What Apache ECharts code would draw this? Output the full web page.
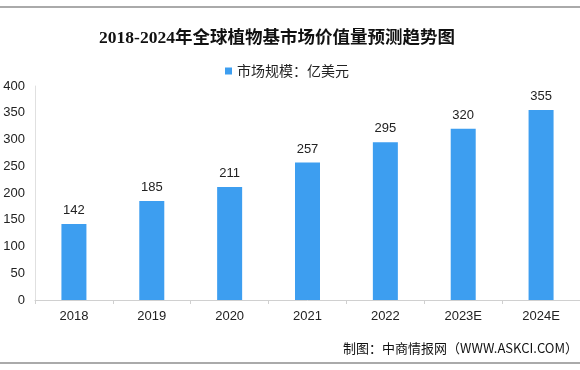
<!DOCTYPE html>
<html>
<head>
<meta charset="utf-8">
<script src="https://cdn.jsdelivr.net/npm/echarts@6/dist/echarts.min.js"></script>
<style>html,body{margin:0;padding:0;background:#fff;}#c{width:580px;height:370px;}</style>
</head>
<body>
<div id="c"></div>
<script>
var categories = ['2018', '2019', '2020', '2021', '2022', '2023E', '2024E'];
var marketSize = [142, 185, 211, 257, 295, 320, 355];
var yTicks = [0, 50, 100, 150, 200, 250, 300, 350, 400];
var titleText = '2018-2024年全球植物基市场价值量预测趋势图';
var seriesName = '市场规模：亿美元';
var sourceText = '制图：中商情报网（WWW.ASKCI.COM）';

var chart = echarts.init(document.getElementById('c'), null, {renderer: 'canvas'});
chart.setOption({
  animation: false,
  backgroundColor: '#fff',
  title: {
    text: titleText,
    left: 272, top: 25, textAlign: 'center',
    textStyle: {fontSize: 17.5, fontWeight: 'bold', color: '#111', fontFamily: 'Liberation Serif, Noto Sans CJK SC'}
  },
  legend: {
    data: [seriesName],
    left: 220, top: 59,
    itemWidth: 7, itemHeight: 7, itemGap: 4,
    icon: 'rect',
    textStyle: {fontSize: 14, color: '#222', fontFamily: 'Noto Sans CJK SC'}
  },
  grid: {left: 35, top: 86, bottom: 70, width: 553},
  xAxis: {
    type: 'category',
    data: categories,
    axisLine: {lineStyle: {color: '#d0d0d0'}},
    axisTick: {show: true, lineStyle: {color: '#d0d0d0'}, length: 4},
    axisLabel: {fontSize: 13, color: '#222', margin: 10, fontFamily: 'Liberation Sans'}
  },
  yAxis: {
    type: 'value',
    min: yTicks[0], max: yTicks[yTicks.length - 1], interval: 50,
    axisLine: {show: true, lineStyle: {color: '#e0e0e0'}},
    axisTick: {show: false},
    splitLine: {show: false},
    axisLabel: {fontSize: 13, color: '#222', margin: 10, fontFamily: 'Liberation Sans'}
  },
  series: [{
    name: seriesName,
    type: 'bar',
    data: marketSize,
    barWidth: 25,
    itemStyle: {color: '#3d9ef0'},
    label: {show: true, position: 'top', distance: 7, fontSize: 13, color: '#222', fontFamily: 'Liberation Sans'}
  }],
  graphic: [
    {type: 'line', shape: {x1: 0, y1: 7, x2: 580, y2: 7}, style: {stroke: '#aaaaaa', lineWidth: 2}},
    {type: 'line', shape: {x1: 0, y1: 363, x2: 580, y2: 363}, style: {stroke: '#aaaaaa', lineWidth: 2}},
    {type: 'text', x: 578, y: 348, style: {text: sourceText, fill: '#111', font: '13px Noto Sans CJK SC', textAlign: 'right', textVerticalAlign: 'middle'}}
  ]
});
</script>
</body>
</html>
